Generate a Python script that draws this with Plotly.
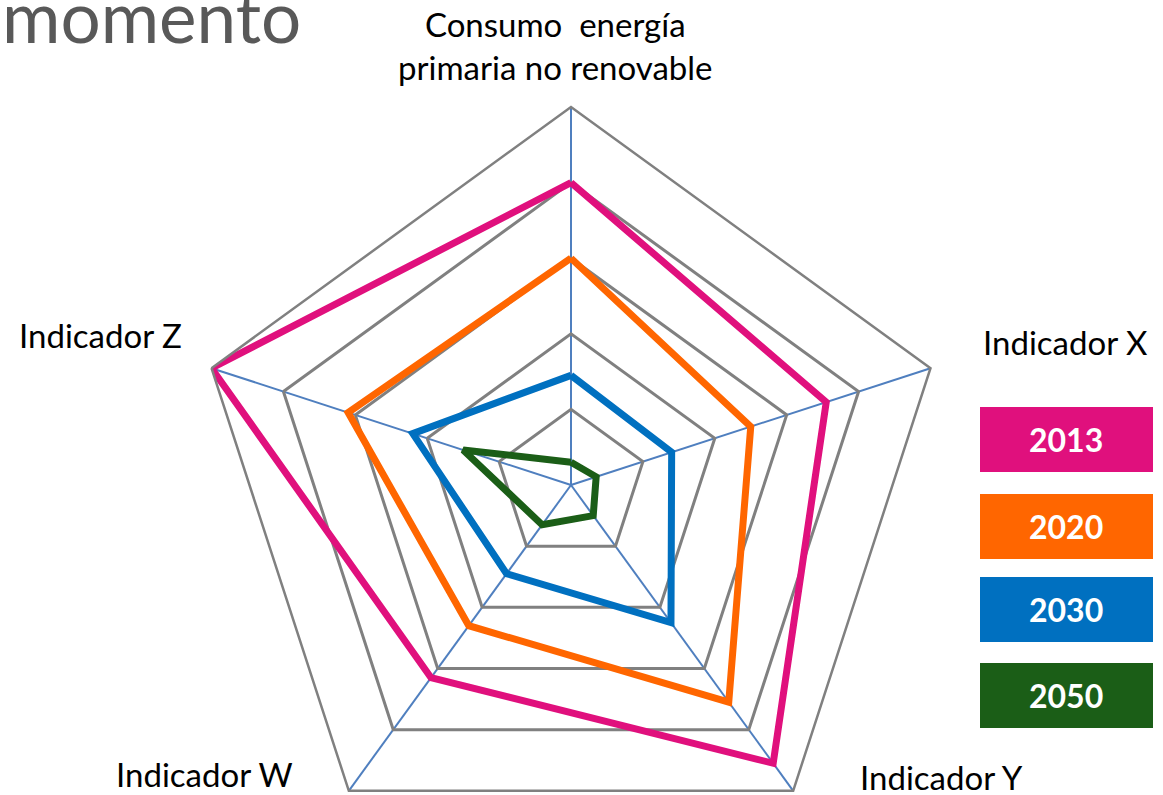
import plotly.graph_objects as go

# ---------------- data ----------------
categories = ["Consumo  energía<br>primaria no renovable", "Indicador X",
              "Indicador Y", "Indicador W", "Indicador Z"]
years = ["2013", "2020", "2030", "2050"]
v2013 = [80, 71, 91, 63, 100]
v2020 = [60, 50, 71, 46, 62]
v2030 = [29, 28, 45, 29, 44]
v2050 = [6, 7, 10, 13, 30]
colors = ["#E0107D", "#FF6600", "#0070C0", "#1B5E17"]
grid_ticks = [20, 40, 60, 80, 100]

series = [v2013, v2020, v2030, v2050]

W, H = 1163, 870           # figure is taller than the window; bottom is empty
CX, CY, R = 571, 485, 378  # polar centre / radius in pixels


def px_x(x):
    return x / W


def px_y(y):
    return (H - y) / H


fig = go.Figure()
for name, vals, col in zip(years, series, colors):
    fig.add_trace(go.Scatterpolar(
        r=vals + vals[:1],
        theta=categories + categories[:1],
        mode="lines",
        name=name,
        line=dict(color=col, width=7),
        showlegend=False,
    ))

fig.update_layout(
    width=W, height=H, autosize=False,
    margin=dict(l=0, r=0, t=0, b=0),
    paper_bgcolor="white",
    font=dict(family="Lato, Carlito, Calibri, sans-serif", color="black"),
    polar=dict(
        domain=dict(x=[px_x(CX - R), px_x(CX + R)], y=[px_y(CY + R), px_y(CY - R)]),
        bgcolor="white",
        gridshape="linear",
        radialaxis=dict(range=[0, 100], tickvals=grid_ticks, showticklabels=False,
                        ticks="", showline=False, gridcolor="#808080", gridwidth=2.5),
        angularaxis=dict(direction="clockwise", rotation=90, showticklabels=False,
                         ticks="", gridcolor="#4F7FBF", gridwidth=1.6,
                         showline=True, linecolor="#808080", linewidth=2.5),
    ),
)

# category labels
label_pos = [(555, 46), (1065, 342), (941, 777), (204, 774), (100, 335)]
for text, (lx, ly) in zip(categories, label_pos):
    fig.add_annotation(x=px_x(lx), y=px_y(ly), xref="paper", yref="paper",
                       text=text, showarrow=False, xanchor="center", yanchor="middle",
                       font=dict(size=33, color="black"))

# legend boxes
box_y = [(407, 472), (494, 559), (577, 642), (663, 728)]
for name, col, (y0, y1) in zip(years, colors, box_y):
    fig.add_shape(type="rect", xref="paper", yref="paper",
                  x0=px_x(980), x1=px_x(1153), y0=px_y(y1), y1=px_y(y0),
                  fillcolor=col, line=dict(width=0))
    fig.add_annotation(x=px_x(1066), y=px_y((y0 + y1) / 2), xref="paper", yref="paper",
                       text="<b>" + name + "</b>", showarrow=False,
                       xanchor="center", yanchor="middle",
                       font=dict(size=32, color="white"))

# cut-off title
fig.add_annotation(x=px_x(0), y=px_y(15), xref="paper", yref="paper",
                   text="momento", showarrow=False, xanchor="left", yanchor="middle",
                   font=dict(size=71, color="#595959", family="Lato, sans-serif"))

fig.write_html("out.html", post_script=(
    "document.body.style.margin='0';"
    "document.body.style.overflow='hidden';"
    "document.documentElement.style.overflow='hidden';"))
